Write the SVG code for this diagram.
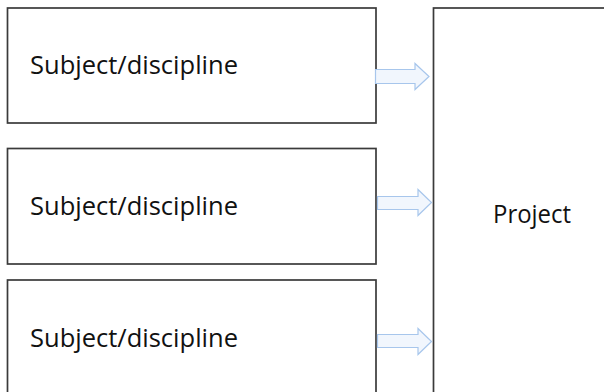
<svg xmlns="http://www.w3.org/2000/svg" width="604" height="392" viewBox="0 0 604 392">
<style>
.box{fill:#fff;stroke:#3a3a3a;stroke-width:1.7}
.lbl{font-family:"Open Sans","Noto Sans","Liberation Sans",sans-serif;font-size:25px;fill:#111}
.arr{fill:#f1f6fd;stroke:#a7c6ec;stroke-width:1.2;stroke-linejoin:miter}
</style>
<rect x="0" y="0" width="604" height="392" fill="#fff"/>
<g id="node-project">
<rect class="box" x="433.5" y="8" width="200" height="420"/>
<text class="lbl" x="493" y="223" textLength="78" lengthAdjust="spacingAndGlyphs">Project</text>
</g>
<g id="node-subject1">
<rect class="box" x="7.5" y="8" width="368.5" height="115"/>
<text class="lbl" x="30" y="74" textLength="208" lengthAdjust="spacingAndGlyphs">Subject/discipline</text>
</g>
<g id="node-subject2">
<rect class="box" x="7.5" y="148.5" width="368.5" height="115.5"/>
<text class="lbl" x="30" y="215" textLength="208" lengthAdjust="spacingAndGlyphs">Subject/discipline</text>
</g>
<g id="node-subject3">
<rect class="box" x="7.5" y="280" width="368.5" height="140"/>
<text class="lbl" x="30" y="347" textLength="208" lengthAdjust="spacingAndGlyphs">Subject/discipline</text>
</g>
<g id="connectors">
<polygon class="arr" points="375.5,69.5 415,69.5 415,63.5 429,76.5 415,89.5 415,83.5 375.5,83.5"/>
<polygon class="arr" points="377.5,196.5 418,196.5 418,189.5 431.5,202.5 418,215.5 418,209.5 377.5,209.5"/>
<polygon class="arr" points="377.5,334.5 418,334.5 418,328.5 431.5,341.5 418,354.5 418,347.5 377.5,347.5"/>
</g>
</svg>
